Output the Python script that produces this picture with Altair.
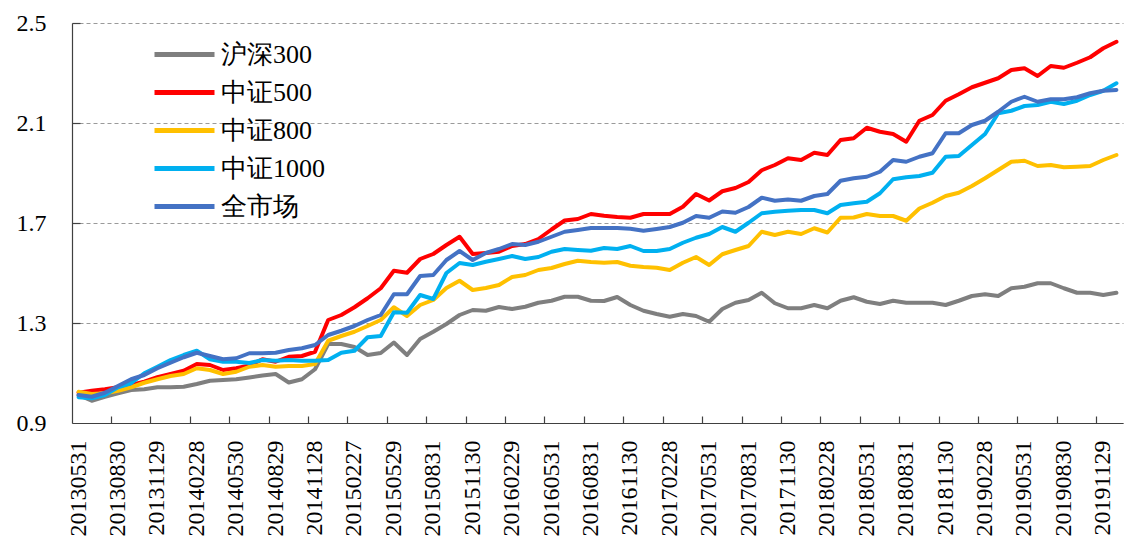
import altair as alt
import pandas as pd

tick_labels = ["20130531", "20130830", "20131129", "20140228", "20140530", "20140829",
               "20141128", "20150227", "20150529", "20150831", "20151130", "20160229",
               "20160531", "20160831", "20161130", "20170228", "20170531", "20170831",
               "20171130", "20180228", "20180531", "20180831", "20181130", "20190228",
               "20190531", "20190830", "20191129"]

months = pd.period_range("2013-05", "2019-12", freq="M")
dates = []
for k, p in enumerate(months):
    if k % 3 == 0:
        dates.append(tick_labels[k // 3])
    else:
        dates.append(p.end_time.strftime("%Y%m%d"))

hs300 = [1.012, 0.989, 1.005, 1.019, 1.032, 1.035, 1.043, 1.043, 1.045, 1.056,
         1.069, 1.072, 1.075, 1.082, 1.090, 1.096, 1.062, 1.075, 1.115, 1.216,
         1.216, 1.204, 1.172, 1.180, 1.222, 1.172, 1.236, 1.265, 1.296, 1.332,
         1.352, 1.349, 1.364, 1.356, 1.365, 1.381, 1.389, 1.405, 1.405, 1.389,
         1.388, 1.404, 1.372, 1.349, 1.336, 1.325, 1.336, 1.328, 1.305, 1.356,
         1.381, 1.392, 1.421, 1.379, 1.359, 1.359, 1.372, 1.359, 1.389, 1.403,
         1.385, 1.376, 1.389, 1.381, 1.381, 1.381, 1.372, 1.389, 1.408, 1.415,
         1.408, 1.439, 1.445, 1.459, 1.459, 1.439, 1.421, 1.421, 1.412, 1.421]

zz500 = [1.021, 1.029, 1.035, 1.043, 1.052, 1.065, 1.083, 1.096, 1.109, 1.136,
         1.132, 1.112, 1.119, 1.130, 1.155, 1.145, 1.165, 1.168, 1.185, 1.312,
         1.332, 1.363, 1.399, 1.439, 1.509, 1.501, 1.556, 1.576, 1.612, 1.645,
         1.576, 1.580, 1.585, 1.608, 1.616, 1.636, 1.674, 1.710, 1.716, 1.736,
         1.729, 1.724, 1.721, 1.736, 1.736, 1.736, 1.765, 1.816, 1.790, 1.827,
         1.840, 1.864, 1.911, 1.932, 1.959, 1.952, 1.981, 1.972, 2.032, 2.039,
         2.081, 2.065, 2.056, 2.025, 2.109, 2.132, 2.189, 2.215, 2.243, 2.261,
         2.279, 2.312, 2.319, 2.288, 2.328, 2.321, 2.341, 2.363, 2.399, 2.425]

zz800 = [1.025, 1.016, 1.019, 1.029, 1.043, 1.061, 1.075, 1.088, 1.096, 1.119,
         1.112, 1.096, 1.105, 1.125, 1.132, 1.125, 1.128, 1.128, 1.136, 1.229,
         1.248, 1.265, 1.288, 1.312, 1.363, 1.328, 1.372, 1.392, 1.440, 1.469,
         1.432, 1.440, 1.452, 1.484, 1.492, 1.512, 1.520, 1.536, 1.549, 1.544,
         1.541, 1.544, 1.529, 1.524, 1.521, 1.512, 1.541, 1.564, 1.532, 1.575,
         1.592, 1.608, 1.665, 1.652, 1.665, 1.656, 1.679, 1.662, 1.721, 1.722,
         1.736, 1.728, 1.728, 1.709, 1.758, 1.781, 1.808, 1.821, 1.848, 1.879,
         1.912, 1.945, 1.949, 1.928, 1.932, 1.923, 1.925, 1.928, 1.952, 1.972]

zz1000 = [1.003, 0.999, 1.012, 1.043, 1.059, 1.099, 1.125, 1.152, 1.172, 1.189,
          1.155, 1.145, 1.145, 1.140, 1.152, 1.149, 1.152, 1.149, 1.149, 1.152,
          1.181, 1.189, 1.243, 1.248, 1.343, 1.341, 1.412, 1.396, 1.500, 1.540,
          1.532, 1.545, 1.556, 1.568, 1.556, 1.564, 1.585, 1.596, 1.592, 1.589,
          1.600, 1.596, 1.608, 1.588, 1.588, 1.596, 1.621, 1.641, 1.656, 1.684,
          1.665, 1.701, 1.739, 1.745, 1.749, 1.752, 1.752, 1.739, 1.772, 1.779,
          1.785, 1.819, 1.875, 1.883, 1.888, 1.901, 1.965, 1.968, 2.012, 2.056,
          2.139, 2.149, 2.168, 2.172, 2.185, 2.176, 2.189, 2.212, 2.229, 2.259]

whole = [1.012, 1.005, 1.021, 1.048, 1.075, 1.092, 1.119, 1.141, 1.163, 1.181,
         1.168, 1.155, 1.159, 1.179, 1.179, 1.181, 1.192, 1.199, 1.212, 1.252,
         1.269, 1.288, 1.312, 1.332, 1.415, 1.415, 1.488, 1.492, 1.552, 1.588,
         1.552, 1.580, 1.596, 1.616, 1.612, 1.625, 1.645, 1.665, 1.672, 1.680,
         1.680, 1.680, 1.677, 1.669, 1.676, 1.684, 1.701, 1.728, 1.721, 1.746,
         1.741, 1.764, 1.801, 1.789, 1.794, 1.789, 1.808, 1.816, 1.869, 1.879,
         1.885, 1.905, 1.952, 1.945, 1.965, 1.979, 2.059, 2.059, 2.092, 2.109,
         2.145, 2.185, 2.205, 2.185, 2.195, 2.195, 2.203, 2.219, 2.229, 2.232]

series_names = ["沪深300", "中证500", "中证800", "中证1000", "全市场"]
series_values = [hs300, zz500, zz800, zz1000, whole]
series_colors = ["#7F7F7F", "#FF0000", "#FFC000", "#00B0F0", "#4472C4"]

rows = []
for name, vals in zip(series_names, series_values):
    for d, v in zip(dates, vals):
        rows.append({"date": d, "series": name, "value": v})
df = pd.DataFrame(rows)

y_ticks = [0.9, 1.3, 1.7, 2.1, 2.5]
tick_marks = [dates[k] for k in range(3, len(dates), 3)]

FONT = "Liberation Serif"

xscale = alt.Scale(type="band", paddingInner=0, paddingOuter=0)
yscale = alt.Scale(domain=[0.9, 2.5], nice=False, zero=False)

lines = alt.Chart(df).mark_line(strokeWidth=4, strokeJoin="round", strokeCap="round").encode(
    x=alt.X("date:N", sort=dates, scale=xscale, bandPosition=0.5, title=None,
            axis=alt.Axis(orient="bottom", values=tick_labels, labelAngle=270, ticks=False,
                          labelFont=FONT, labelFontSize=24, labelColor="#000000",
                          labelPadding=17, domainColor="#404040", domainWidth=1.2,
                          grid=False, labelOverlap=False)),
    y=alt.Y("value:Q", scale=yscale, title=None,
            axis=alt.Axis(orient="left", values=y_ticks, format=".1f", ticks=False,
                          labelFont=FONT, labelFontSize=24, labelColor="#000000",
                          labelPadding=26, domainColor="#404040", domainWidth=1.2,
                          grid=True, gridDash=[4, 3], gridColor="#9A9A9A", gridWidth=1.2)),
    color=alt.Color("series:N", sort=series_names,
                    scale=alt.Scale(domain=series_names, range=series_colors),
                    legend=alt.Legend(orient="none", legendX=95, legendY=14, title=None,
                                      symbolType="M-2,0H2", symbolSize=900,
                                      symbolStrokeWidth=5, symbolFillColor="transparent",
                                      labelFont=FONT,
                                      labelFontSize=26, labelColor="#000000",
                                      labelOffset=19, rowPadding=7, padding=0)),
    detail="series:N",
)

ticks_layer = alt.Chart(df).mark_line(strokeOpacity=0).encode(
    x=alt.X("date:N", sort=dates, scale=xscale, bandPosition=0.5, title=None,
            axis=alt.Axis(orient="bottom", values=tick_marks, bandPosition=0, labels=False,
                          domain=False, grid=False, ticks=True, tickSize=7, offset=-7,
                          tickColor="#404040", tickWidth=1.2)),
    y=alt.Y("value:Q", scale=yscale, title=None,
            axis=alt.Axis(orient="left", values=y_ticks[1:], labels=False, domain=False,
                          grid=False, ticks=True, tickSize=8, offset=-8,
                          tickColor="#404040", tickWidth=1.2)),
    detail="series:N",
)

chart = alt.layer(lines, ticks_layer).resolve_axis(
    x="independent", y="independent"
).properties(
    width=1051, height=400,
    padding={"left": 64, "top": 15, "right": 3, "bottom": 121},
    autosize="none",
).configure_view(stroke=None)

chart.save("out.html", embed_options={"renderer": "svg", "actions": False})
